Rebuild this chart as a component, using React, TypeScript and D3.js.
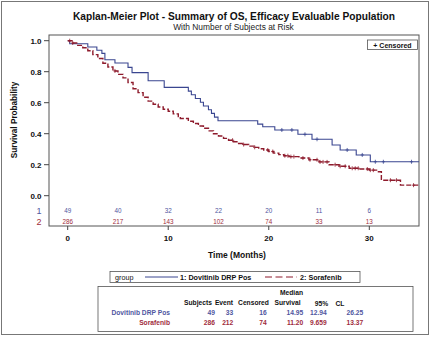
import React from "react";
import * as d3 from "d3";

const blueTimes = [0, 0.2, 2.0, 2.9, 3.4, 3.7, 4.7, 6.0, 6.4, 8.0, 9.6, 12.0, 12.3, 12.7, 13.2, 13.5, 14.0, 14.3, 14.6, 14.95, 18.9, 19.4, 20.6, 22.9, 24.3, 26.3, 27.1, 28.7, 30.1, 34.95];
const blueSurv = [1.0, 0.98, 0.959, 0.938, 0.918, 0.877, 0.856, 0.828, 0.794, 0.742, 0.699, 0.675, 0.651, 0.627, 0.603, 0.579, 0.555, 0.531, 0.507, 0.484, 0.462, 0.445, 0.424, 0.396, 0.364, 0.327, 0.295, 0.263, 0.219, 0.219];
const blueCensor = [21.3, 22.3, 23.6, 24.8, 27.8, 29.3, 30.6, 31.4, 34.2];

const redTimes = [0, 0.5, 1.0, 1.5, 2.0, 2.5, 3.0, 3.5, 4.0, 4.5, 5.0, 5.5, 6.0, 6.5, 7.0, 7.5, 8.0, 8.5, 9.0, 9.5, 10.0, 10.5, 11.0, 11.2, 12.0, 12.5, 13.0, 13.5, 14.0, 14.5, 15.0, 15.5, 16.0, 16.5, 17.0, 17.5, 18.0, 18.5, 19.0, 19.5, 20.0, 20.5, 21.0, 21.5, 22.0, 23.0, 24.0, 25.0, 26.0, 27.0, 28.0, 29.0, 30.0, 30.8, 31.2, 33.1, 34.95];
const redSurv = [1.0, 0.985, 0.97, 0.955, 0.935, 0.91, 0.885, 0.855, 0.83, 0.805, 0.783, 0.76, 0.73, 0.69, 0.665, 0.635, 0.61, 0.59, 0.572, 0.558, 0.545, 0.528, 0.51, 0.498, 0.48, 0.466, 0.45, 0.435, 0.418, 0.4, 0.385, 0.37, 0.358, 0.348, 0.337, 0.33, 0.32, 0.312, 0.303, 0.295, 0.285, 0.275, 0.265, 0.258, 0.252, 0.243, 0.232, 0.218, 0.2, 0.19, 0.177, 0.172, 0.165, 0.155, 0.1, 0.068, 0.068];
const redCensor = [0.2, 0.5, 4.7, 16.4, 17.5, 18.6, 19.9, 20.4, 21.6, 21.9, 22.2, 22.5, 23.4, 24.1, 24.8, 25.1, 25.4, 25.8, 26.6, 27.1, 27.6, 28.3, 28.6, 28.9, 29.8, 30.1, 30.4, 32.1, 32.7, 34.4];

const riskTimes = [0, 5, 10, 15, 20, 25, 30];
const blueRisk = [49, 40, 32, 22, 20, 11, 6];
const redRisk = [286, 217, 143, 102, 74, 33, 13];

const yTicks = [0, 0.2, 0.4, 0.6, 0.8, 1.0];
const xTicks = [0, 10, 20, 30];

const tableHeaders = ["Subjects", "Event", "Censored", "Survival", "95%", "CL"];
const groupNames = ["Dovitinib DRP Pos", "Sorafenib"];
const subjects = [49, 286];
const events = [33, 212];
const censored = [16, 74];
const medians = ["14.95", "11.20"];
const clLow = ["12.94", "9.659"];
const clHigh = ["26.25", "13.37"];

const BLUE = "#3a4690";
const RED = "#8e1b2c";
const BLUE_T = "#4f56a0";
const RED_T = "#a02c3c";
const FONT = "'Liberation Sans', Arial, sans-serif";

export default function App() {
  const x = d3.scaleLinear().domain([0, 30]).range([67.7, 369.3]);
  const y = d3.scaleLinear().domain([0, 1]).range([195.7, 40.7]);
  const frame = { l: 49, t: 35, r: 419, b: 226 };

  const line = d3
    .line<[number, number]>()
    .x((d) => x(d[0]))
    .y((d) => y(d[1]))
    .curve(d3.curveStepAfter);

  const bluePts = blueTimes.map((t, i) => [t, blueSurv[i]] as [number, number]);
  const redPts = redTimes.map((t, i) => [t, redSurv[i]] as [number, number]);

  const survAt = (times: number[], surv: number[], t: number) => {
    const i = d3.bisectRight(times, t) - 1;
    return surv[Math.max(0, i)];
  };

  const plus = (cx: number, cy: number, color: string, key: string) => (
    <g key={key} stroke={color} strokeWidth={0.8}>
      <line x1={cx} x2={cx} y1={cy - 2} y2={cy + 2} />
      <line x1={cx - 1.6} x2={cx + 1.6} y1={cy} y2={cy} />
    </g>
  );

  const colX = [215, 233.3, 266.7, 303.3, 326.7, 363.3];
  const TF = 6.7;

  return (
    <svg
      width={431}
      height={337}
      style={{ position: "absolute", left: 0, top: 0, background: "#fff" }}
      fontFamily={FONT}
    >
      <rect x={1.5} y={1.5} width={427} height={333} fill="#fff" stroke="#777" strokeWidth={1} />
      <text x={234} y={19.5} textAnchor="middle" fontSize={10.2} fontWeight="bold" fill="#111">
        Kaplan-Meier Plot - Summary of OS, Efficacy Evaluable Population
      </text>
      <text x={233.5} y={29.5} textAnchor="middle" fontSize={8.4} fill="#222">
        With Number of Subjects at Risk
      </text>

      <rect x={frame.l} y={frame.t} width={frame.r - frame.l} height={frame.b - frame.t} fill="#fff" stroke="#555" strokeWidth={1} />

      {yTicks.map((v) => (
        <g key={"y" + v}>
          <line x1={44} x2={frame.l} y1={y(v)} y2={y(v)} stroke="#444" />
          <text x={41.5} y={y(v) + 2.8} textAnchor="end" fontSize={8} fontWeight="bold" fill="#111">
            {v.toFixed(1)}
          </text>
        </g>
      ))}
      <text
        transform={`translate(16.5,120) rotate(-90)`}
        textAnchor="middle"
        fontSize={8.2}
        fontWeight="bold"
        fill="#111"
      >
        Survival Probability
      </text>

      {xTicks.map((v) => (
        <g key={"x" + v}>
          <line x1={x(v)} x2={x(v)} y1={frame.b} y2={frame.b + 4} stroke="#444" />
          <text x={x(v)} y={240.5} textAnchor="middle" fontSize={8} fontWeight="bold" fill="#111">
            {v}
          </text>
        </g>
      ))}
      <text x={237} y={258} textAnchor="middle" fontSize={8.5} fontWeight="bold" fill="#111">
        Time (Months)
      </text>

      <path d={line(bluePts) || ""} fill="none" stroke={BLUE} strokeWidth={1.1} />
      <path d={line(redPts) || ""} fill="none" stroke={RED} strokeWidth={1.4} strokeDasharray="5,2" />
      {blueCensor.map((t, i) => plus(x(t), y(survAt(blueTimes, blueSurv, t)), BLUE, "bc" + i))}
      {redCensor.map((t, i) => plus(x(t), y(survAt(redTimes, redSurv, t)), RED, "rc" + i))}

      <rect x={367.5} y={40} width={50} height={9.5} fill="#fff" stroke="#555" strokeWidth={0.8} />
      <text x={392.5} y={47.5} textAnchor="middle" fontSize={7} fontWeight="bold" fill="#111">
        + Censored
      </text>

      <text x={39} y={214} textAnchor="middle" fontSize={9} fill={BLUE_T}>1</text>
      <text x={39} y={224.5} textAnchor="middle" fontSize={9} fill={RED_T}>2</text>
      {riskTimes.map((t, i) => (
        <g key={"r" + t}>
          <text x={x(t)} y={213} textAnchor="middle" fontSize={6.3} fill={BLUE_T}>
            {blueRisk[i]}
          </text>
          <text x={x(t)} y={223.5} textAnchor="middle" fontSize={6.3} fill={RED_T}>
            {redRisk[i]}
          </text>
        </g>
      ))}

      <rect x={110} y={271.5} width={250} height={11} fill="#fff" stroke="#555" strokeWidth={0.8} />
      <text x={115} y={279.7} fontSize={7.2} fill="#111">group</text>
      <line x1={145} x2={178} y1={277} y2={277} stroke={BLUE} strokeWidth={1} />
      <text x={180} y={279.7} fontSize={7.2} fontWeight="bold" fill="#111">1: Dovitinib DRP Pos</text>
      <line x1={265} x2={297} y1={277} y2={277} stroke={RED} strokeWidth={1.2} strokeDasharray="7,3.5" />
      <text x={300} y={279.7} fontSize={7.2} fontWeight="bold" fill="#111">2: Sorafenib</text>

      <rect x={98} y={286.5} width={315} height={45} fill="#fff" stroke="#555" strokeWidth={0.8} />
      <text x={303} y={294.5} textAnchor="end" fontSize={TF} fontWeight="bold" fill="#111">Median</text>
      <text x={198} y={305} textAnchor="middle" fontSize={TF} fontWeight="bold" fill="#111">{tableHeaders[0]}</text>
      <text x={224} y={305} textAnchor="middle" fontSize={TF} fontWeight="bold" fill="#111">{tableHeaders[1]}</text>
      <text x={253.5} y={305} textAnchor="middle" fontSize={TF} fontWeight="bold" fill="#111">{tableHeaders[2]}</text>
      <text x={287.5} y={305} textAnchor="middle" fontSize={TF} fontWeight="bold" fill="#111">{tableHeaders[3]}</text>
      <text x={321.5} y={305.5} textAnchor="middle" fontSize={TF} fontWeight="bold" fill="#111">{tableHeaders[4]}</text>
      <text x={340} y={305.5} textAnchor="middle" fontSize={TF} fontWeight="bold" fill="#111">{tableHeaders[5]}</text>

      {groupNames.map((g, i) => {
        const yy = i === 0 ? 314.8 : 324.6;
        const c = i === 0 ? BLUE_T : RED_T;
        const vals = [subjects[i], events[i], censored[i], medians[i], clLow[i], clHigh[i]];
        return (
          <g key={g} fontSize={TF} fontWeight="bold" fill={c}>
            <text x={170} y={yy} textAnchor="end">{g}</text>
            {vals.map((v, j) => (
              <text key={j} x={colX[j]} y={yy} textAnchor="end">{v}</text>
            ))}
          </g>
        );
      })}
    </svg>
  );
}
